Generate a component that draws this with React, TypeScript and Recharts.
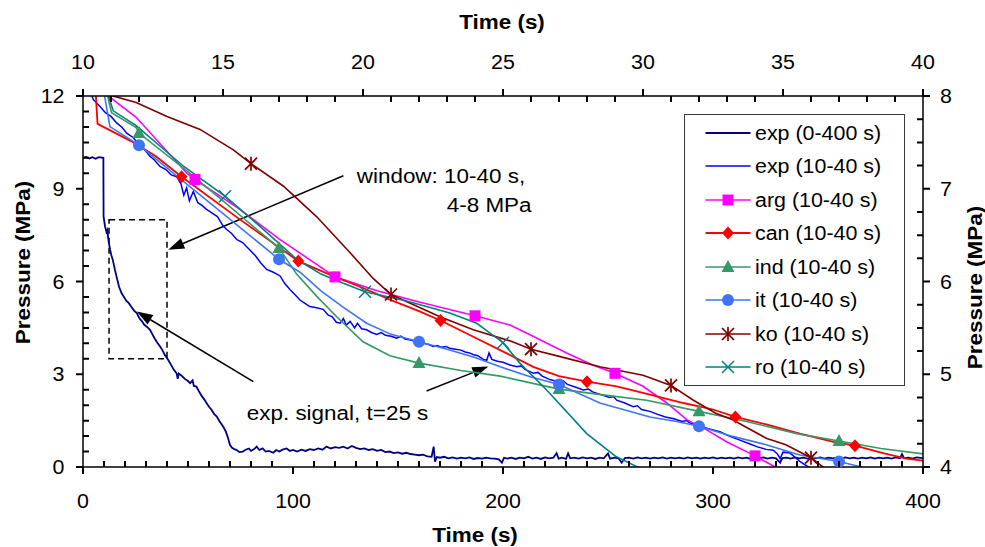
import React from 'react';
import { LineChart, Line, XAxis, YAxis, ReferenceArea, ReferenceLine, Legend } from 'recharts';

const FONT = '"Liberation Sans", Arial, Helvetica, sans-serif';
const SX = 1.07;

// ---------- chart frame (margins + axis sizes given to Recharts) ----------
const W = 985;
const H = 547;
const MARGIN = { top: 20, right: 20, bottom: 20, left: 20 };
const AX = { bottomH: 60, topH: 76, leftW: 63, rightW: 42 };
const PLOT = {
  left: MARGIN.left + AX.leftW,
  right: W - MARGIN.right - AX.rightW,
  top: MARGIN.top + AX.topH,
  bottom: H - MARGIN.bottom - AX.bottomH,
};

// ---------- axis domains and ticks ----------
const bottomDomain: [number, number] = [0, 400];
const topDomain: [number, number] = [10, 40];
const leftDomain: [number, number] = [0, 12];
const rightDomain: [number, number] = [4, 8];
const bottomTicks = Array.from({ length: 41 }, (_, i) => i * 10);
const bottomMajor = [0, 100, 200, 300, 400];
const topTicks = Array.from({ length: 31 }, (_, i) => 10 + i);
const topMajor = [10, 15, 20, 25, 30, 35, 40];
const leftTicks = Array.from({ length: 25 }, (_, i) => i * 0.5);
const leftMajor = [0, 3, 6, 9, 12];
const rightTicks = Array.from({ length: 17 }, (_, i) => 4 + i * 0.25);
const rightMajor = [4, 5, 6, 7, 8];

// ---------- data: [time (s), pressure (MPa)] ----------
// exp (0-400 s) : bottom / left axes
const expFull: [number, number][] = [
  [0, 10.0], [1.5, 10.03], [3, 9.98], [4.5, 10.02], [6, 9.97], [7.5, 10.02], [9.7, 10.0], [9.8, 8.1],
  [10.5, 7.78], [11.2, 7.6], [11.6, 7.66], [12.2, 7.3], [12.9, 7.03], [13.5, 6.85], [14.2, 6.7], [15.2, 6.38],
  [16.0, 6.15], [17.2, 5.82], [18.4, 5.62], [19.5, 5.5], [20.6, 5.38], [21.8, 5.3], [23.0, 5.18], [24.3, 5.06],
  [25.6, 4.98], [26.8, 4.82], [28.0, 4.72], [29.2, 4.6], [30.5, 4.53], [31.9, 4.44], [33.0, 4.3], [34.2, 4.15],
  [35.4, 4.02], [36.7, 3.9], [37.8, 3.78], [39.0, 3.62], [40.6, 3.46], [41.8, 3.32], [43.2, 3.15], [44.6, 3.03],
  [45.1, 2.85], [45.6, 3.02], [47.0, 2.95], [48.5, 2.85], [50.0, 2.78], [51.0, 2.71], [52.2, 2.8], [52.8, 2.62],
  [54.0, 2.6], [55.2, 2.45], [56.5, 2.3], [57.8, 2.18], [58.9, 2.06], [60.0, 1.95], [61.2, 1.85], [62.4, 1.72],
  [63.7, 1.63], [65.0, 1.48], [66.8, 1.3], [68.0, 1.15], [69.0, 0.95], [70.0, 0.71], [71.0, 0.62], [72.0, 0.58],
  [73.2, 0.55], [74.5, 0.48], [76.0, 0.5], [77.5, 0.56], [79.0, 0.6], [80.0, 0.52], [81.5, 0.58], [82.7, 0.66],
  [84.0, 0.55], [85.5, 0.6], [87.0, 0.5], [88.5, 0.52], [90.6, 0.46], [92.0, 0.55], [93.5, 0.5], [95.0, 0.56],
  [97.0, 0.6], [98.5, 0.52], [100, 0.55], [102, 0.5], [104, 0.56], [106, 0.52], [108, 0.58], [110, 0.55],
  [112, 0.6], [114, 0.56], [116, 0.66], [118, 0.6], [120, 0.64], [122, 0.62], [124, 0.66], [126, 0.6],
  [128, 0.68], [130, 0.62], [132, 0.58], [134, 0.6], [136, 0.55], [138, 0.58], [140, 0.52], [142, 0.55],
  [144, 0.48], [146, 0.5], [148, 0.45], [150, 0.47], [152, 0.43], [154, 0.46], [156, 0.42], [158, 0.4],
  [160, 0.38], [162, 0.4], [164, 0.34], [166, 0.33], [167, 0.66], [167.6, 0.17], [168.5, 0.32], [170, 0.3],
  [172, 0.33], [174, 0.28], [176, 0.31], [178, 0.27], [180, 0.3], [182, 0.28], [184, 0.31], [186, 0.26],
  [188, 0.29], [190, 0.27], [192, 0.3], [194, 0.28], [196, 0.27], [198, 0.25], [199.5, 0.14], [200.5, 0.3],
  [202, 0.27], [204, 0.3], [206, 0.26], [208, 0.3], [210, 0.28], [212, 0.33], [214, 0.27], [216, 0.3],
  [218, 0.26], [220, 0.31], [222, 0.28], [224, 0.3], [225.5, 0.45], [226.5, 0.27], [228, 0.3], [230, 0.26],
  [231, 0.44], [232, 0.28], [234, 0.3], [236, 0.27], [238, 0.31], [240, 0.28], [242, 0.3], [244, 0.26],
  [246, 0.3], [248, 0.28], [250, 0.44], [251, 0.27], [253, 0.3], [255, 0.28], [256.5, 0.14], [258, 0.29],
  [260, 0.3], [262, 0.27], [264, 0.31], [266, 0.28], [268, 0.3], [270, 0.27], [272, 0.3], [274, 0.28],
  [276, 0.31], [278, 0.27], [280, 0.3], [282, 0.28], [284, 0.3], [286, 0.27], [288, 0.31], [290, 0.28],
  [292, 0.3], [294, 0.27], [296, 0.3], [298, 0.28], [300, 0.31], [302, 0.27], [304, 0.3], [306, 0.28],
  [308, 0.3], [310, 0.27], [312, 0.31], [314, 0.28], [316, 0.3], [318, 0.26], [320, 0.3], [322, 0.28],
  [324, 0.31], [326, 0.27], [328, 0.3], [330, 0.28], [332, 0.14], [333, 0.29], [335, 0.3], [337, 0.27],
  [339, 0.31], [341, 0.28], [343, 0.3], [345, 0.27], [347, 0.3], [349, 0.28], [351, 0.31], [353, 0.27],
  [355, 0.3], [357, 0.28], [359, 0.3], [361, 0.27], [363, 0.31], [365, 0.28], [367, 0.3], [369, 0.27],
  [371, 0.3], [373, 0.28], [375, 0.31], [377, 0.27], [379, 0.3], [381, 0.28], [383, 0.3], [385, 0.27],
  [387, 0.31], [389, 0.28], [390, 0.42], [391, 0.28], [393, 0.3], [395, 0.27], [397, 0.31], [400, 0.29],
];

// window series : top (10-40 s) / right (4-8 MPa) axes
const expWindow: [number, number][] = [
  [10.2, 8.1], [10.37, 7.96], [10.6, 7.89], [10.8, 7.82], [11.0, 7.78], [11.2, 7.71], [11.4, 7.66], [11.56, 7.6],
  [11.8, 7.55], [11.98, 7.48], [12.2, 7.42], [12.39, 7.35], [12.55, 7.31], [12.75, 7.24], [12.95, 7.21], [13.15, 7.15],
  [13.35, 7.13], [13.5, 7.05], [13.6, 6.93], [13.7, 7.01], [13.8, 6.87], [13.94, 6.97], [14.1, 6.85], [14.25, 6.82],
  [14.4, 6.78], [14.6, 6.74], [14.8, 6.7], [15.0, 6.6], [15.13, 6.56], [15.3, 6.52], [15.5, 6.45], [15.7, 6.42],
  [15.96, 6.34], [16.15, 6.28], [16.35, 6.2], [16.56, 6.13], [16.8, 6.1], [17.04, 6.06], [17.2, 5.98], [17.4, 5.91],
  [17.6, 5.85], [17.75, 5.8], [17.9, 5.77], [18.1, 5.73], [18.3, 5.72], [18.58, 5.7], [18.75, 5.64], [18.9, 5.62],
  [19.05, 5.56], [19.18, 5.55], [19.3, 5.6], [19.4, 5.53], [19.54, 5.57], [19.7, 5.5], [19.8, 5.55], [19.95, 5.49],
  [20.13, 5.48], [20.3, 5.45], [20.49, 5.43], [20.65, 5.45], [20.8, 5.42], [21.0, 5.41], [21.2, 5.39], [21.35, 5.41],
  [21.5, 5.38], [21.7, 5.37], [21.9, 5.35], [22.05, 5.36], [22.2, 5.33], [22.35, 5.32], [22.5, 5.3], [22.65, 5.31],
  [22.8, 5.29], [22.95, 5.3], [23.1, 5.28], [23.3, 5.27], [23.5, 5.26], [23.65, 5.24], [23.8, 5.23], [23.95, 5.21],
  [24.1, 5.2], [24.3, 5.16], [24.42, 5.15], [24.5, 5.23], [24.6, 5.16], [24.8, 5.14], [25.0, 5.13], [25.25, 5.1],
  [25.5, 5.08], [25.65, 5.09], [25.8, 5.05], [26.1, 5.01], [26.25, 5.02], [26.4, 4.98], [26.7, 4.94], [27.0, 4.92],
  [27.15, 4.93], [27.3, 4.89], [27.6, 4.86], [27.87, 4.83], [28.05, 4.84], [28.2, 4.81], [28.5, 4.78], [28.8, 4.75],
  [28.95, 4.76], [29.06, 4.72], [29.35, 4.69], [29.65, 4.65], [29.8, 4.66], [29.95, 4.62], [30.25, 4.6], [30.5, 4.57],
  [30.8, 4.54], [31.1, 4.52], [31.4, 4.49], [31.55, 4.5], [31.7, 4.47], [32.0, 4.45], [32.25, 4.42], [32.5, 4.4],
  [32.75, 4.38], [33.1, 4.33], [33.46, 4.29], [33.8, 4.25], [34.06, 4.22], [34.4, 4.19], [34.65, 4.18], [34.8, 4.14],
  [34.9, 4.09], [35.0, 4.16], [35.25, 4.15], [35.45, 4.1], [35.6, 4.06], [35.96, 3.99], [36.4, 3.93],
];

const argData: [number, number][] = [
  [10.5, 8.3], [10.9, 8.0], [11.9, 7.77], [13.7, 7.17], [14, 7.1], [15.5, 6.8], [17, 6.46], [19, 6.05],
  [20.5, 5.9], [22, 5.78], [24, 5.63], [25.25, 5.53], [26.07, 5.41], [27.27, 5.23], [28.2, 5.1], [29, 5.01],
  [30.0, 4.87], [30.85, 4.69], [31.56, 4.51], [32.27, 4.4], [33.0, 4.27], [34, 4.12], [34.9, 3.97], [35.5, 3.85],
];
const argMarks = [14, 19, 24, 29, 34];

const canData: [number, number][] = [
  [10.4, 8.3], [10.52, 7.7], [11.8, 7.5], [12.6, 7.35], [13.52, 7.13], [15.6, 6.67], [17.69, 6.22], [19, 6.05],
  [20, 5.93], [21, 5.8], [22, 5.68], [22.77, 5.58], [24.1, 5.38], [24.9, 5.26], [26.08, 5.08], [27, 4.98],
  [28, 4.92], [29.06, 4.87], [30.25, 4.78], [31.44, 4.69], [32.5, 4.62], [33.3, 4.54], [34.4, 4.46], [35.6, 4.36],
  [36.8, 4.27], [37.57, 4.23], [38.58, 4.15], [39.4, 4.09], [40.25, 4.06],
];
const canMarks = [13.52, 17.69, 22.77, 28, 33.3, 37.57];

const indData: [number, number][] = [
  [10.8, 8.1], [11.02, 7.82], [11.9, 7.66], [12, 7.6], [13.64, 7.21], [15, 6.87], [17, 6.36], [17.63, 6.08],
  [18.35, 5.84], [19.06, 5.62], [20.0, 5.35], [20.96, 5.2], [22, 5.12], [23.5, 5.04], [24.9, 4.98], [27, 4.84],
  [28.5, 4.78], [30.13, 4.72], [32, 4.6], [33.7, 4.49], [35.49, 4.36], [37, 4.28], [38.5, 4.2], [40.3, 4.13],
];
const indMarks = [12, 17, 22, 27, 32, 37];

const itData: [number, number][] = [
  [10.6, 8.3], [10.96, 7.67], [12, 7.47], [17, 6.24], [17.75, 6.1], [18.5, 5.9], [19.3, 5.72], [20.13, 5.55],
  [21, 5.43], [22, 5.35], [23, 5.27], [24, 5.18], [24.9, 5.08], [26, 4.97], [27, 4.89], [28.46, 4.69],
  [30.25, 4.54], [31.2, 4.49], [32, 4.44], [33.2, 4.33], [34.4, 4.24], [35.6, 4.13], [37, 4.06], [38.2, 3.97],
  [39, 3.9],
];
const itMarks = [12, 17, 22, 27, 32, 37];

const koData: [number, number][] = [
  [10.9, 8.1], [11.08, 8.0], [11.9, 7.93], [13, 7.78], [14.18, 7.64], [15.37, 7.42], [16, 7.27], [17.15, 7.03],
  [18.34, 6.7], [19.54, 6.31], [20.37, 6.03], [21, 5.86], [22.75, 5.62], [23.94, 5.48], [25.25, 5.36], [26, 5.27],
  [27.04, 5.19], [28.46, 5.08], [30, 4.99], [31, 4.88], [31.8, 4.72], [32.6, 4.58], [33.2, 4.51], [34.4, 4.31],
  [35.1, 4.24], [36, 4.1], [36.56, 3.97], [37, 3.88],
];
const koMarks = [16, 21, 26, 31, 36];

const roData: [number, number][] = [
  [10.8, 8.1], [11.08, 7.84], [11.9, 7.68], [13.6, 7.24], [15.07, 6.92], [16.3, 6.6], [17.63, 6.24], [18.5, 6.08],
  [19.3, 5.98], [20.07, 5.89], [21.56, 5.79], [23.1, 5.66], [24.06, 5.55], [25, 5.34], [25.6, 5.12], [26.56, 4.83],
  [27.99, 4.36], [29, 4.12], [30.13, 3.95], [30.5, 3.88],
];
const roMarks = [15.07, 20.07, 25];

// ---------- annotations (bottom/left axis units) ----------
const windowBox = { t1: 12.4, t2: 40, p1: 3.5, p2: 8 };
const arrows: { from: [number, number]; to: [number, number] }[] = [
  { from: [124, 9.42], to: [40.6, 7.03] },
  { from: [81.1, 2.76], to: [25.6, 5.03] },
  { from: [163.6, 2.46], to: [193, 3.25] },
];

type MarkerKind = 'none' | 'square' | 'diamond' | 'triangle' | 'circle' | 'star' | 'cross';

const toRows = (d: [number, number][], marks: number[] = []) =>
  d.map(([t, p]) => ({ t, p, m: marks.some((v) => Math.abs(v - t) < 1e-6) }));

const SERIES = [
  { name: 'exp (0-400 s)', rows: toRows(expFull), color: '#000080', width: 1.8, marker: 'none' as MarkerKind, axes: 'main' },
  { name: 'exp (10-40 s)', rows: toRows(expWindow), color: '#0000FF', width: 1.5, marker: 'none' as MarkerKind, axes: 'win' },
  { name: 'arg (10-40 s)', rows: toRows(argData, argMarks), color: '#FF00FF', width: 1.6, marker: 'square' as MarkerKind, axes: 'win' },
  { name: 'can (10-40 s)', rows: toRows(canData, canMarks), color: '#FF0000', width: 1.8, marker: 'diamond' as MarkerKind, axes: 'win' },
  { name: 'ind (10-40 s)', rows: toRows(indData, indMarks), color: '#339966', width: 1.6, marker: 'triangle' as MarkerKind, axes: 'win' },
  { name: 'it (10-40 s)', rows: toRows(itData, itMarks), color: '#3F74F5', width: 1.6, marker: 'circle' as MarkerKind, axes: 'win' },
  { name: 'ko (10-40 s)', rows: toRows(koData, koMarks), color: '#800000', width: 1.6, marker: 'star' as MarkerKind, axes: 'win' },
  { name: 'ro (10-40 s)', rows: toRows(roData, roMarks), color: '#008080', width: 1.6, marker: 'cross' as MarkerKind, axes: 'win' },
];

function MarkerShape({ kind, cx, cy, color }: { kind: MarkerKind; cx: number; cy: number; color: string }) {
  switch (kind) {
    case 'square':
      return <rect x={cx - 5.5} y={cy - 5.5} width={11} height={11} fill={color} />;
    case 'diamond':
      return <polygon points={`${cx},${cy - 6.5} ${cx + 6},${cy} ${cx},${cy + 6.5} ${cx - 6},${cy}`} fill={color} />;
    case 'triangle':
      return <polygon points={`${cx},${cy - 7} ${cx + 6.5},${cy + 5} ${cx - 6.5},${cy + 5}`} fill={color} />;
    case 'circle':
      return <circle cx={cx} cy={cy} r={6} fill={color} />;
    case 'star':
      return (
        <g stroke={color} strokeWidth={1.7}>
          <line x1={cx} y1={cy - 7} x2={cx} y2={cy + 7} />
          <line x1={cx - 6} y1={cy - 6} x2={cx + 6} y2={cy + 6} />
          <line x1={cx - 6} y1={cy + 6} x2={cx + 6} y2={cy - 6} />
        </g>
      );
    case 'cross':
      return (
        <g stroke={color} strokeWidth={1.5}>
          <line x1={cx - 6} y1={cy - 6} x2={cx + 6} y2={cy + 6} />
          <line x1={cx - 6} y1={cy + 6} x2={cx + 6} y2={cy - 6} />
        </g>
      );
    default:
      return null;
  }
}

const makeDot = (kind: MarkerKind, color: string) => (props: any) => {
  const { cx, cy, payload, index } = props;
  if (!payload || !payload.m || cx == null || cy == null) return <g key={`d${index}`} />;
  return (
    <g key={`d${index}`}>
      <MarkerShape kind={kind} cx={cx} cy={cy} color={color} />
    </g>
  );
};

const isIn = (arr: number[], v: number) => arr.some((m) => Math.abs(m - v) < 1e-6);

// ---------- tick labels (Recharts axis custom tick, text only) ----------
const tickTextProps = { fontSize: 20, fontFamily: FONT, fill: '#000' };
const makeTickLabel = (side: 'bottom' | 'top' | 'left' | 'right') => (props: any) => {
  const x = Number(props.x);
  const y = Number(props.y);
  const { payload, index } = props;
  const txt = String(Math.round(payload.value * 100) / 100);
  let tr = '';
  let anchor: 'middle' | 'end' | 'start' = 'middle';
  if (side === 'bottom') tr = `translate(${x},${y + 40.5}) scale(${SX},1)`;
  else if (side === 'top') tr = `translate(${x},${y - 27.5}) scale(${SX},1)`;
  else if (side === 'left') {
    tr = `translate(${x - 18.5},${y + 7.2}) scale(${SX},1)`;
    anchor = 'end';
  } else {
    tr = `translate(${x + 17},${y + 7.2}) scale(${SX},1)`;
    anchor = 'start';
  }
  return (
    <text key={`l${side}${index}`} {...tickTextProps} textAnchor={anchor} transform={tr}>
      {txt}
    </text>
  );
};

// ---------- tick marks (major outside, minor inside), same linear mapping as the axes ----------
const TICK_OUT = 7;
const TICK_IN = 6;
const mapX = (v: number, d: [number, number]) => PLOT.left + ((v - d[0]) / (d[1] - d[0])) * (PLOT.right - PLOT.left);
const mapY = (v: number, d: [number, number]) => PLOT.bottom - ((v - d[0]) / (d[1] - d[0])) * (PLOT.bottom - PLOT.top);

function tickPath(): string {
  const parts: string[] = [];
  bottomTicks.forEach((v) => {
    const x = mapX(v, bottomDomain);
    const y2 = isIn(bottomMajor, v) ? PLOT.bottom + TICK_OUT : PLOT.bottom - TICK_IN;
    parts.push(`M${x} ${PLOT.bottom}L${x} ${y2}`);
  });
  topTicks.forEach((v) => {
    const x = mapX(v, topDomain);
    const y2 = isIn(topMajor, v) ? PLOT.top - TICK_OUT : PLOT.top + TICK_IN;
    parts.push(`M${x} ${PLOT.top}L${x} ${y2}`);
  });
  leftTicks.forEach((v) => {
    const y = mapY(v, leftDomain);
    const x2 = isIn(leftMajor, v) ? PLOT.left - TICK_OUT : PLOT.left + TICK_IN;
    parts.push(`M${PLOT.left} ${y}L${x2} ${y}`);
  });
  rightTicks.forEach((v) => {
    const y = mapY(v, rightDomain);
    const x2 = isIn(rightMajor, v) ? PLOT.right + TICK_OUT : PLOT.right - TICK_IN;
    parts.push(`M${PLOT.right} ${y}L${x2} ${y}`);
  });
  return parts.join('');
}

const arrowShape = (props: any) => {
  const { x1, y1, x2, y2 } = props;
  const dx = x2 - x1;
  const dy = y2 - y1;
  const len = Math.hypot(dx, dy) || 1;
  const ux = dx / len;
  const uy = dy / len;
  const hl = 16;
  const hw = 5.5;
  const bx = x2 - ux * hl;
  const by = y2 - uy * hl;
  const pts = `${x2},${y2} ${bx - uy * hw},${by + ux * hw} ${bx + uy * hw},${by - ux * hw}`;
  return (
    <g>
      <line x1={x1} y1={y1} x2={bx} y2={by} stroke="#000" strokeWidth={1.5} />
      <polygon points={pts} fill="#000" />
    </g>
  );
};

const renderLegend = () => (
  <div
    style={{
      boxSizing: 'border-box',
      width: 221,
      height: 272,
      border: '1.5px solid #3a3a3a',
      background: '#fff',
      paddingTop: 1,
    }}
  >
    {SERIES.map((s) => (
      <div key={s.name} style={{ height: 33.5, display: 'flex', alignItems: 'center' }}>
        <svg width={70} height={20} style={{ flex: 'none' }}>
          <line x1={20.5} y1={10} x2={65.5} y2={10} stroke={s.color} strokeWidth={s.width} />
          <MarkerShape kind={s.marker} cx={43} cy={10} color={s.color} />
        </svg>
        <span
          style={{
            fontFamily: FONT,
            fontSize: 20,
            color: '#000',
            whiteSpace: 'nowrap',
            display: 'inline-block',
            transform: `scaleX(${SX})`,
            transformOrigin: 'left center',
            lineHeight: '20px',
          }}
        >
          {s.name}
        </span>
      </div>
    ))}
  </div>
);

export default function App() {
  return (
    <div style={{ position: 'absolute', left: 0, top: 0, width: W, height: H, background: '#fff' }}>
      <LineChart width={W} height={H} margin={MARGIN}>
        <XAxis
          xAxisId="bottom"
          orientation="bottom"
          type="number"
          dataKey="t"
          domain={bottomDomain}
          allowDataOverflow
          ticks={bottomMajor}
          interval={0}
          height={AX.bottomH}
          tickSize={0}
          tickMargin={0}
          tickLine={false}
          axisLine={{ stroke: '#000', strokeWidth: 1.5 }}
          tick={makeTickLabel('bottom')}
        />
        <XAxis
          xAxisId="top"
          orientation="top"
          type="number"
          dataKey="t"
          domain={topDomain}
          allowDataOverflow
          ticks={topMajor}
          interval={0}
          height={AX.topH}
          tickSize={0}
          tickMargin={0}
          tickLine={false}
          axisLine={{ stroke: '#000', strokeWidth: 1.5 }}
          tick={makeTickLabel('top')}
        />
        <YAxis
          yAxisId="left"
          orientation="left"
          type="number"
          domain={leftDomain}
          allowDataOverflow
          ticks={leftMajor}
          interval={0}
          width={AX.leftW}
          tickSize={0}
          tickMargin={0}
          tickLine={false}
          axisLine={{ stroke: '#000', strokeWidth: 1.5 }}
          tick={makeTickLabel('left')}
        />
        <YAxis
          yAxisId="right"
          orientation="right"
          type="number"
          domain={rightDomain}
          allowDataOverflow
          ticks={rightMajor}
          interval={0}
          width={AX.rightW}
          tickSize={0}
          tickMargin={0}
          tickLine={false}
          axisLine={{ stroke: '#000', strokeWidth: 1.5 }}
          tick={makeTickLabel('right')}
        />
        <ReferenceArea
          xAxisId="bottom"
          yAxisId="left"
          x1={windowBox.t1}
          x2={windowBox.t2}
          y1={windowBox.p1}
          y2={windowBox.p2}
          fill="none"
          fillOpacity={0}
          stroke="#000"
          strokeWidth={1.5}
          strokeDasharray="6 4"
        />
        {arrows.map((a, i) => (
          <ReferenceLine
            key={`arrow${i}`}
            xAxisId="bottom"
            yAxisId="left"
            segment={[
              { x: a.from[0], y: a.from[1] },
              { x: a.to[0], y: a.to[1] },
            ]}
            shape={arrowShape}
          />
        ))}
        {SERIES.map((s) => (
          <Line
            key={s.name}
            data={s.rows}
            dataKey="p"
            name={s.name}
            xAxisId={s.axes === 'main' ? 'bottom' : 'top'}
            yAxisId={s.axes === 'main' ? 'left' : 'right'}
            type="linear"
            stroke={s.color}
            strokeWidth={s.width}
            dot={s.marker === 'none' ? false : makeDot(s.marker, s.color)}
            activeDot={false}
            isAnimationActive={false}
            legendType="none"
          />
        ))}
        <Legend
          layout="vertical"
          align="center"
          verticalAlign="middle"
          content={renderLegend}
          wrapperStyle={{ left: 684, top: 114, width: 221, height: 272, margin: 0, padding: 0 }}
        />
      </LineChart>
      <svg
        width={W}
        height={H}
        style={{ position: 'absolute', left: 0, top: 0, pointerEvents: 'none' }}
        fontFamily={FONT}
      >
        <path d={tickPath()} stroke="#000000" strokeWidth={2} fill="none" />
        <text fontSize={21} fontWeight="bold" textAnchor="middle" transform={`translate(502,28.5) scale(${SX},1)`}>
          Time (s)
        </text>
        <text fontSize={21} fontWeight="bold" textAnchor="middle" transform={`translate(475,541.5) scale(${SX},1)`}>
          Time (s)
        </text>
        <text
          fontSize={21}
          fontWeight="bold"
          textAnchor="middle"
          transform={`translate(29.5,262.5) rotate(-90) scale(${SX},1)`}
        >
          Pressure (MPa)
        </text>
        <text
          fontSize={21}
          fontWeight="bold"
          textAnchor="middle"
          transform={`translate(981.5,287.5) rotate(-90) scale(${SX},1)`}
        >
          Pressure (MPa)
        </text>
        <text fontSize={21} transform={`translate(356.7,182.5) scale(${SX},1)`}>
          window: 10-40 s,
        </text>
        <text fontSize={21} transform={`translate(446.7,211.5) scale(${SX},1)`}>
          4-8 MPa
        </text>
        <text fontSize={21} transform={`translate(246.7,420) scale(${SX},1)`}>
          exp. signal, t=25 s
        </text>
      </svg>
    </div>
  );
}
